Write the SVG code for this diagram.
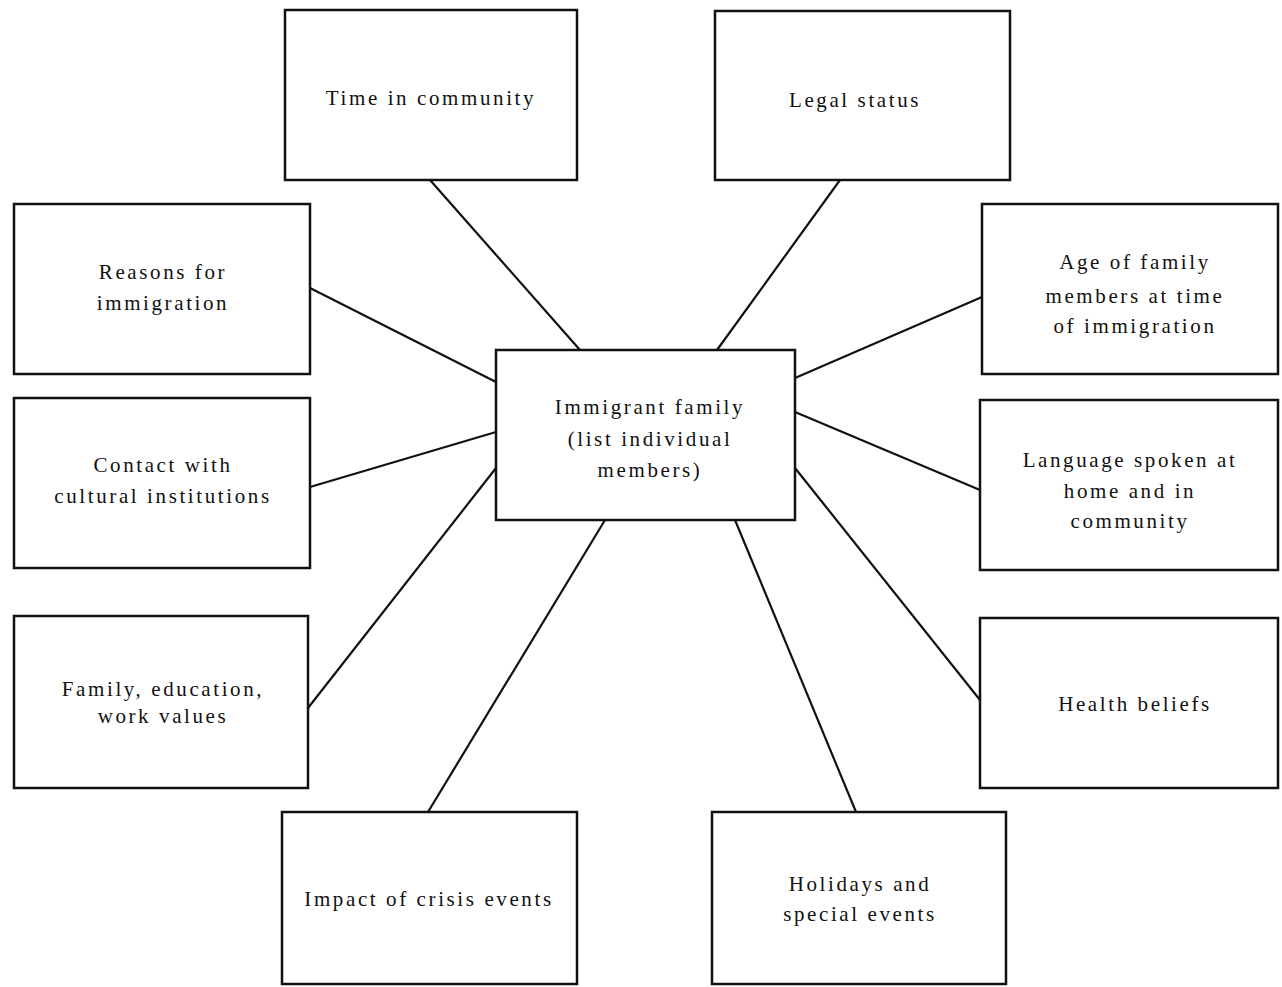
<svg xmlns="http://www.w3.org/2000/svg" width="1282" height="987" viewBox="0 0 1282 987">
<style>
.box{fill:#fff;stroke:#111;stroke-width:2.5}
.t{font-family:"Liberation Serif","Times New Roman",serif;font-size:21px;fill:#111;text-anchor:middle;letter-spacing:2.6px}
.c{stroke:#111;stroke-width:2.2;fill:none}
</style>
<rect width="1282" height="987" fill="#fff"/>
<g id="connectors">
<line class="c" x1="430" y1="180" x2="580" y2="350"/>
<line class="c" x1="840" y1="180" x2="717" y2="350"/>
<line class="c" x1="310" y1="288" x2="496" y2="382"/>
<line class="c" x1="982" y1="297" x2="795" y2="378"/>
<line class="c" x1="310" y1="487" x2="496" y2="432"/>
<line class="c" x1="980" y1="490" x2="795" y2="412"/>
<line class="c" x1="308" y1="708" x2="496" y2="468"/>
<line class="c" x1="980" y1="700" x2="795" y2="468"/>
<line class="c" x1="428" y1="812" x2="605" y2="520"/>
<line class="c" x1="856" y1="812" x2="735" y2="520"/>
</g>
<g id="center"><rect class="box" x="496" y="350" width="299" height="170"/>
<text class="t" x="650" y="414">Immigrant family</text><text class="t" x="650" y="446">(list individual</text><text class="t" x="650" y="477">members)</text></g>
<g id="time"><rect class="box" x="285" y="10" width="292" height="170"/><text class="t" x="431" y="105">Time in community</text></g>
<g id="legal"><rect class="box" x="715" y="11" width="295" height="169"/><text class="t" x="855" y="107">Legal status</text></g>
<g id="reasons"><rect class="box" x="14" y="204" width="296" height="170"/><text class="t" x="163" y="279">Reasons for</text><text class="t" x="163" y="310">immigration</text></g>
<g id="age"><rect class="box" x="982" y="204" width="296" height="170"/><text class="t" x="1135" y="269">Age of family</text><text class="t" x="1135" y="303">members at time</text><text class="t" x="1135" y="333">of immigration</text></g>
<g id="contact"><rect class="box" x="14" y="398" width="296" height="170"/><text class="t" x="163" y="472">Contact with</text><text class="t" x="163" y="503">cultural institutions</text></g>
<g id="language"><rect class="box" x="980" y="400" width="298" height="170"/><text class="t" x="1130" y="467">Language spoken at</text><text class="t" x="1130" y="498">home and in</text><text class="t" x="1130" y="528">community</text></g>
<g id="family"><rect class="box" x="14" y="616" width="294" height="172"/><text class="t" x="163" y="696">Family, education,</text><text class="t" x="163" y="723">work values</text></g>
<g id="health"><rect class="box" x="980" y="618" width="298" height="170"/><text class="t" x="1135" y="711">Health beliefs</text></g>
<g id="impact"><rect class="box" x="282" y="812" width="295" height="172"/><text class="t" x="429" y="906">Impact of crisis events</text></g>
<g id="holidays"><rect class="box" x="712" y="812" width="294" height="172"/><text class="t" x="860" y="891">Holidays and</text><text class="t" x="860" y="921">special events</text></g>
</svg>
